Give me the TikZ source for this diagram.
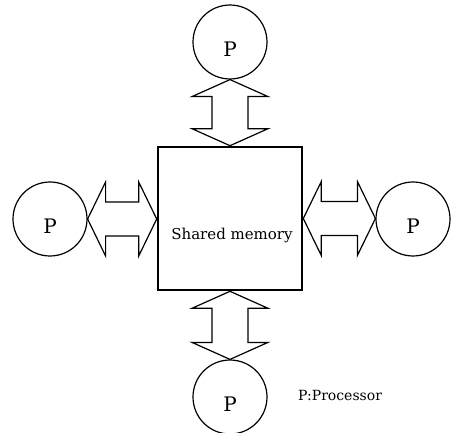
\documentclass[tikz,border=0pt]{standalone}
\usepackage{fontspec}
\setmainfont{DejaVu Serif}
\usetikzlibrary{calc}
\begin{document}
\begin{tikzpicture}[x=1pt,y=1pt,
  proc/.style={circle,draw,line width=1.2pt,minimum size=74pt,inner sep=0pt,
    label={[font=\fontsize{20}{24}\selectfont,yshift=-7pt,inner sep=0pt]center:P}},
  membox/.style={draw,line width=2.6pt,minimum width=144pt,minimum height=143pt,inner sep=0pt},
  bus/.style={draw,line width=1.2pt,line join=miter},
  legend/.style={anchor=west,inner sep=0pt,font=\fontsize{14}{17}\selectfont}]
\useasboundingbox (0,0) rectangle (453,-433);
\node[membox,label={[font=\fontsize{15}{18}\selectfont,yshift=-16.5pt,xshift=2pt,inner sep=0pt]center:Shared memory}] (mem) at (230,-218.5) {};
\node[proc] (pt) at (230,-42) {};
\node[proc] (pb) at (230,-397) {};
\node[proc] (pl) at (50,-219) {};
\node[proc] (pr) at (413,-219) {};
\node[legend] (leg) at (298,-395) {P:Processor};
% vertical buses
\foreach \a/\b in {pt.south/mem.north, mem.south/pb.north}{
  \draw[bus] let \p1=(\a), \p2=(\b) in
    (\x1,\y1) -- (\x1+38,\y1-17) -- (\x1+18,\y1-17) -- (\x1+18,\y2+17) -- (\x1+38,\y2+17)
    -- (\x1,\y2) -- (\x1-38,\y2+17) -- (\x1-18,\y2+17) -- (\x1-18,\y1-17) -- (\x1-38,\y1-17) -- cycle;
}
% horizontal buses
\foreach \a/\b in {pl.east/mem.west, mem.east/pr.west}{
  \draw[bus] let \p1=(\a), \p2=(\b) in
    (\x1,\y1) -- (\x1+18,\y1+37) -- (\x1+18,\y1+17) -- (\x2-18,\y1+17) -- (\x2-18,\y1+37)
    -- (\x2,\y1) -- (\x2-18,\y1-37) -- (\x2-18,\y1-17) -- (\x1+18,\y1-17) -- (\x1+18,\y1-37) -- cycle;
}
\end{tikzpicture}
\end{document}
